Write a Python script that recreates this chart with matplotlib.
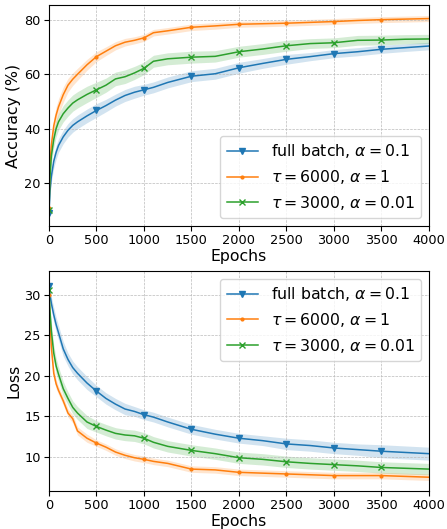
import numpy as np
import matplotlib
matplotlib.use("Agg")
import matplotlib.pyplot as plt

epochs = [0, 10, 25, 50, 75, 100, 150, 200, 250, 300, 400, 500, 600, 700, 800, 900, 1000,
          1100, 1250, 1500, 1750, 2000, 2250, 2500, 2750, 3000, 3250, 3500, 3750, 4000]

# accuracy (%)
acc_full = [9, 16.8, 22.5, 28, 31.3, 33.8, 37, 39.4, 41.2, 42.5, 44.7, 46.7, 48.5, 50.5, 52.2, 53.4, 54.3,
            55.2, 57, 59.3, 60.2, 62.4, 64, 65.5, 66.5, 67.6, 68.3, 69.2, 69.8, 70.4]
acc_full_sd = [0.8, 1.5, 2, 2.5, 2.5, 2.5, 2.5, 2.5, 2.5, 2.5, 2.5, 2.5, 2.3, 2.2, 2.2, 2.2, 2,
               2, 2, 2, 2, 2, 1.8, 1.8, 1.5, 1.5, 1.5, 1.5, 1.4, 1.4]
acc_t6000 = [11, 27, 34, 41, 45, 48, 52.5, 56, 58.2, 60, 63.5, 66.5, 68.5, 70.5, 71.8, 72.5, 73.4,
             75.3, 76, 77.3, 77.8, 78.4, 78.6, 78.8, 79.1, 79.4, 79.8, 80.1, 80.3, 80.5]
acc_t6000_sd = [0.8, 2.5, 3, 3, 3, 3, 2.8, 2.5, 2.3, 2.2, 2, 1.8, 1.6, 1.5, 1.4, 1.3, 1.3,
                1.2, 1.2, 1.2, 1.2, 1.1, 1.1, 1.1, 1.1, 1.1, 1.1, 1.1, 1.1, 1.1]
acc_t3000 = [10, 22, 30, 36, 40, 42.5, 45.5, 47.6, 49.4, 50.6, 52.6, 54.3, 56, 58.3, 59.1, 60.5, 62.2,
             64.8, 65.7, 66.3, 66.6, 68.3, 69.3, 70.5, 71.3, 71.6, 72.5, 72.6, 72.9, 73]
acc_t3000_sd = [0.8, 2.5, 3, 3, 3, 3, 3, 3, 3, 3, 3, 2.8, 2.6, 2.5, 2.5, 2.4, 2.3,
                2.2, 2.2, 2.2, 2.1, 2, 2, 2, 1.8, 1.8, 1.8, 1.8, 1.7, 1.7]

# loss
loss_full = [31.1, 30, 28.9, 27.5, 26.3, 25.3, 23.3, 22, 21, 20.3, 19.1, 18.1, 17.2, 16.5, 15.9, 15.6, 15.2,
             14.9, 14.3, 13.4, 12.8, 12.3, 12, 11.6, 11.4, 11.1, 10.9, 10.7, 10.55, 10.4]
loss_full_sd = [0.4, 0.6, 0.8, 0.9, 0.9, 0.9, 0.9, 0.8, 0.8, 0.8, 0.8, 0.7, 0.7, 0.7, 0.7, 0.6, 0.6,
                0.6, 0.6, 0.6, 0.6, 0.6, 0.6, 0.7, 0.7, 0.7, 0.7, 0.8, 0.8, 0.8]
loss_t6000 = [30, 27, 23.5, 20.3, 19, 18.2, 16.9, 15.4, 14.7, 13.2, 12.3, 11.7, 11.2, 10.6, 10.2, 9.9, 9.7,
              9.45, 9.2, 8.5, 8.4, 8.1, 8.0, 7.9, 7.8, 7.7, 7.7, 7.7, 7.6, 7.5]
loss_t6000_sd = [0.4, 0.8, 0.8, 0.7, 0.6, 0.5, 0.5, 0.5, 0.5, 0.5, 0.5, 0.4, 0.4, 0.4, 0.4, 0.4, 0.4,
                 0.4, 0.4, 0.4, 0.4, 0.4, 0.4, 0.4, 0.4, 0.4, 0.4, 0.4, 0.4, 0.4]
loss_t3000 = [30.5, 28, 25.5, 22.8, 21.2, 20.2, 18.4, 17.2, 16.1, 15.4, 14.3, 13.75, 13.3, 12.9, 12.7, 12.6, 12.3,
              11.8, 11.3, 10.8, 10.4, 9.9, 9.7, 9.4, 9.2, 9.05, 8.9, 8.7, 8.6, 8.5]
loss_t3000_sd = [0.4, 0.8, 1, 1, 1, 0.9, 0.9, 0.8, 0.8, 0.8, 0.8, 0.7, 0.7, 0.7, 0.7, 0.7, 0.7,
                 0.7, 0.7, 0.7, 0.7, 0.7, 0.7, 0.7, 0.7, 0.7, 0.7, 0.7, 0.7, 0.7]

labels = [r'full batch, $\alpha = 0.1$', r'$\tau = 6000$, $\alpha = 1$', r'$\tau = 3000$, $\alpha = 0.01$']
colors = ['tab:blue', 'tab:orange', 'tab:green']
markers = ['v', '.', 'x']

x = np.array(epochs)
marks = [i for i, e in enumerate(epochs) if e % 500 == 0 and e < 4000]

fig = plt.figure(figsize=(4.47, 5.29), dpi=100)
ax1 = fig.add_axes([0.1096, 0.5728, 0.850, 0.4178])
ax2 = fig.add_axes([0.1096, 0.0718, 0.850, 0.4160])

def draw(ax, series, sds):
    for y, sd, lab, c, m in zip(series, sds, labels, colors, markers):
        y = np.array(y)
        sd = np.array(sd)
        ax.plot(x, y, color=c, marker=m, markevery=marks, markersize=5 if m != '.' else 4,
                linewidth=1.1, label=lab)
        ax.fill_between(x, y - sd, y + sd, color=c, alpha=0.2, linewidth=0)
    ax.set_xlim(0, 4000)
    ax.set_xticks(range(0, 4001, 500))
    ax.set_xlabel('Epochs', fontsize=11.3, labelpad=1)
    ax.tick_params(labelsize=9.3, pad=2.5)
    ax.grid(True, linestyle='--', linewidth=0.5, color='#bbbbbb')

draw(ax1, [acc_full, acc_t6000, acc_t3000], [acc_full_sd, acc_t6000_sd, acc_t3000_sd])
ax1.set_ylim(4.2, 85.5)
ax1.set_yticks([20, 40, 60, 80])
ax1.set_ylabel('Accuracy (%)', fontsize=11.3, labelpad=2)
ax1.legend(loc='lower right', fontsize=11.3)

draw(ax2, [loss_full, loss_t6000, loss_t3000], [loss_full_sd, loss_t6000_sd, loss_t3000_sd])
ax2.set_ylim(5.8, 32.9)
ax2.set_yticks([10, 15, 20, 25, 30])
ax2.set_ylabel('Loss', fontsize=11.3, labelpad=2)
ax2.legend(loc='upper right', fontsize=11.3)

fig.savefig('out.png', dpi=100)
